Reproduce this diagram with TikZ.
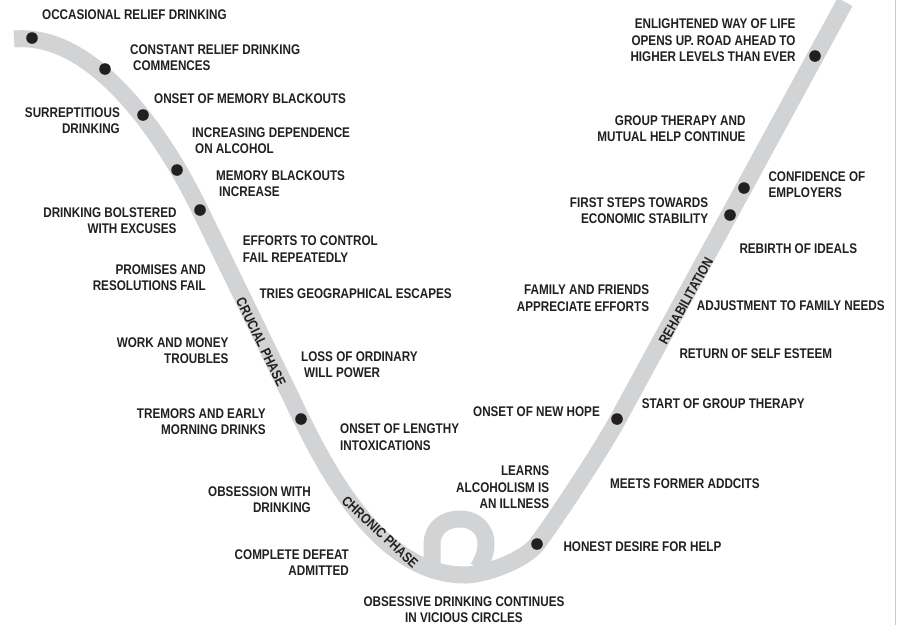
\documentclass[tikz,border=0pt]{standalone}
\usepackage{fontspec}
\newfontfamily\lbf[FakeStretch=0.835]{Liberation Sans}
\definecolor{bandc}{HTML}{D1D3D4}
\definecolor{txt}{HTML}{231F20}
\definecolor{edgec}{HTML}{C8C8C8}
\begin{document}
\begin{tikzpicture}[x=1pt,y=-1pt,
  band/.style={draw=bandc,line width=17pt,line cap=butt,line join=round},
  dot/.style={circle,fill=txt,inner sep=0pt,minimum size=11.6pt},
  lbl/.style={font=\lbf\bfseries\fontsize{14}{16.3}\selectfont,text=txt,inner sep=0pt},
  L/.style={lbl,align=left,anchor=north west},
  R/.style={lbl,align=right,anchor=north east},
  C/.style={lbl,align=center,anchor=north},
  phase/.style={lbl}]
\useasboundingbox (0,0) rectangle (897,625);
\fill[white] (0,0) rectangle (897,625);
\draw[edgec,line width=1pt] (895.5,0) -- (895.5,625);
% main band
\draw[band] (14,39) .. controls (95,32) and (165,138) .. (200,210)
  -- (290,395) .. controls (320,458) and (375,575) .. (465,575)
  .. controls (485,575) and (525,560) .. (537,544)
  .. controls (555,520) and (600,452) .. (617,421) -- (845,2);
% loop
\draw[band] (432,568) -- (432,545) .. controls (432,528) and (444,519) .. (460,519)
  .. controls (477,519) and (486,531) .. (486,543)
  .. controls (486,553) and (483,560) .. (478,568);
% dots
\node[dot] (d1) at (32,38) {};
\node[dot] (d2) at (105,69) {};
\node[dot] (d3) at (143,115) {};
\node[dot] (d4) at (177,170) {};
\node[dot] (d5) at (200,210) {};
\node[dot] (d6) at (301,419) {};
\node[dot] (d7) at (537,544) {};
\node[dot] (d8) at (617,419) {};
\node[dot] (d9) at (730,215) {};
\node[dot] (d10) at (744,188) {};
\node[dot] (d11) at (815,56) {};
% phase labels
\node[phase,rotate=-64] (crucial) at (261,342) {CRUCIAL PHASE};
\node[phase,rotate=-43] (chronic) at (380,532) {CHRONIC PHASE};
\node[phase,rotate=61] (rehab) at (686,301) {REHABILITATION};
% left / descent labels
\node[L] (t1) at (42,9.5) {OCCASIONAL RELIEF DRINKING};
\node[L] (t2) at (130,44.3) {CONSTANT RELIEF DRINKING\\\hspace*{3pt}COMMENCES};
\node[L] (t3) at (154,93.3) {ONSET OF MEMORY BLACKOUTS};
\node[R] (t4) at (120,107.3) {SURREPTITIOUS\\DRINKING};
\node[L] (t5) at (192,127.3) {INCREASING DEPENDENCE\\\hspace*{3pt}ON ALCOHOL};
\node[L] (t6) at (216,170.7) {MEMORY BLACKOUTS\\\hspace*{3pt}INCREASE};
\node[R] (t7) at (176.7,207.3) {DRINKING BOLSTERED\\WITH EXCUSES};
\node[L] (t8) at (242.7,236) {EFFORTS TO CONTROL\\FAIL REPEATEDLY};
\node[R] (t9) at (206,264.3) {PROMISES AND\\RESOLUTIONS FAIL};
\node[L] (t10) at (259.3,288.3) {TRIES GEOGRAPHICAL ESCAPES};
\node[R] (t11) at (228.7,337.7) {WORK AND MONEY\\TROUBLES};
\node[L] (t12) at (301,351.7) {LOSS OF ORDINARY\\\hspace*{3pt}WILL POWER};
\node[R] (t13) at (266,408.3) {TREMORS AND EARLY\\MORNING DRINKS};
\node[L] (t14) at (340,424) {ONSET OF LENGTHY\\INTOXICATIONS};
\node[R] (t15) at (311,486.7) {OBSESSION WITH\\DRINKING};
\node[R] (t16) at (349,549.3) {COMPLETE DEFEAT\\ADMITTED};
\node[C] (t17) at (464,596.7) {OBSESSIVE DRINKING CONTINUES\\IN VICIOUS CIRCLES};
% right / ascent labels
\node[R] (t18) at (549.3,466) {LEARNS\\ALCOHOLISM IS\\AN ILLNESS};
\node[L] (t19) at (563.3,541.7) {HONEST DESIRE FOR HELP};
\node[L] (t20) at (610,479) {MEETS FORMER ADDCITS};
\node[R] (t21) at (600,406.7) {ONSET OF NEW HOPE};
\node[L] (t22) at (641.7,399) {START OF GROUP THERAPY};
\node[L] (t23) at (679.3,349) {RETURN OF SELF ESTEEM};
\node[L] (t24) at (696.7,301) {ADJUSTMENT TO FAMILY NEEDS};
\node[R] (t25) at (649.3,285) {FAMILY AND FRIENDS\\APPRECIATE EFFORTS};
\node[L] (t26) at (739.3,243.3) {REBIRTH OF IDEALS};
\node[R] (t27) at (708.3,197.7) {FIRST STEPS TOWARDS\\ECONOMIC STABILITY};
\node[L] (t28) at (768.3,171.7) {CONFIDENCE OF\\EMPLOYERS};
\node[R] (t29) at (745.7,115.7) {GROUP THERAPY AND\\MUTUAL HELP CONTINUE};
\node[R] (t30) at (795.7,19) {ENLIGHTENED WAY OF LIFE\\OPENS UP. ROAD AHEAD TO\\HIGHER LEVELS THAN EVER};
\end{tikzpicture}
\end{document}
